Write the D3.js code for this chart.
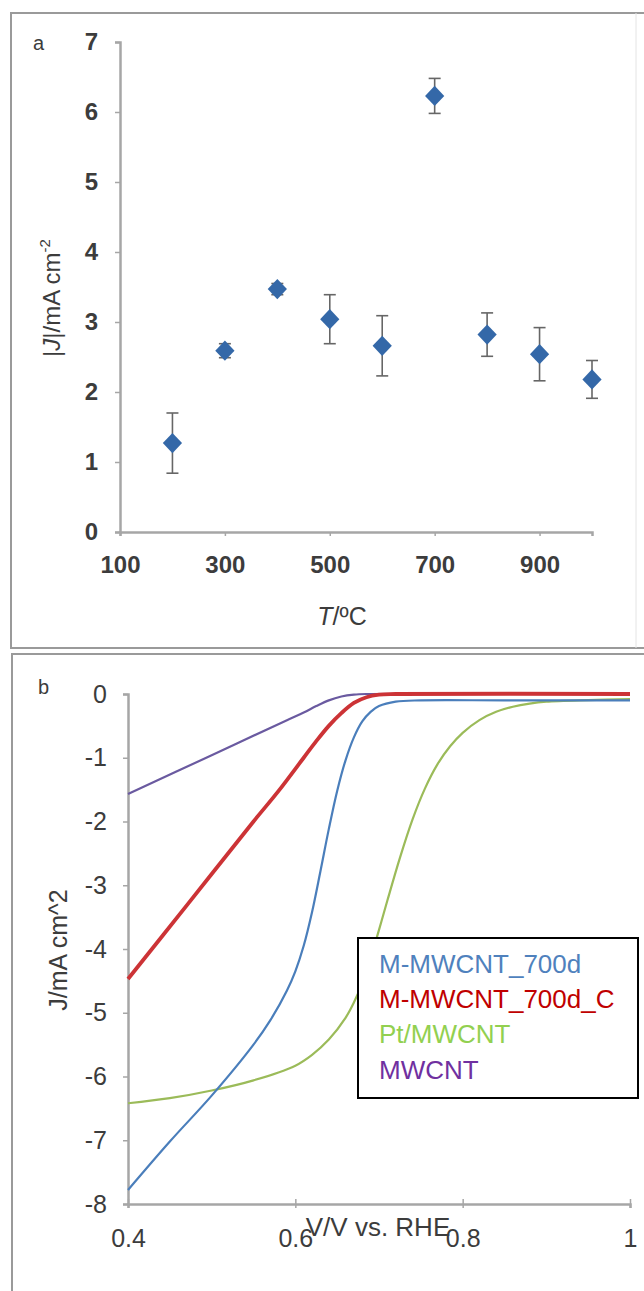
<!DOCTYPE html>
<html>
<head>
<meta charset="utf-8">
<script src="https://cdn.jsdelivr.net/npm/d3@7"></script>
<style>
  html, body { margin: 0; padding: 0; background: #fff; }
  svg { display: block; font-family: "Liberation Sans", Arial, sans-serif; }
</style>
</head>
<body>
<div id="chart"></div>
<script>
// Panel a: |J| vs annealing temperature
const temps = [200, 300, 400, 500, 600, 700, 800, 900, 1000];
const currents = [1.27, 2.59, 3.47, 3.04, 2.66, 6.23, 2.82, 2.54, 2.18];
const errors = [0.43, 0.10, 0.08, 0.35, 0.43, 0.25, 0.31, 0.38, 0.27];
const tempTicks = [100, 300, 500, 700, 900];
const currentTicks = [0, 1, 2, 3, 4, 5, 6, 7];

// Panel b: polarisation curves (V vs RHE, J in mA cm^-2)
const seriesNames = ["M-MWCNT_700d", "M-MWCNT_700d_C", "Pt/MWCNT", "MWCNT"];
const blueV = [0.40, 0.45, 0.50, 0.55, 0.57, 0.59, 0.60, 0.61, 0.62, 0.63, 0.64, 0.65, 0.66, 0.67, 0.68, 0.69, 0.70, 0.72, 0.75, 0.85, 1.00];
const blueJ = [-7.78, -7.02, -6.30, -5.50, -5.12, -4.65, -4.35, -3.95, -3.42, -2.78, -2.12, -1.52, -1.04, -0.68, -0.43, -0.28, -0.19, -0.12, -0.10, -0.10, -0.10];
const redV = [0.40, 0.47, 0.55, 0.58, 0.61, 0.625, 0.64, 0.655, 0.67, 0.685, 0.70, 0.72, 1.00];
const redJ = [-4.47, -3.32, -2.00, -1.52, -1.00, -0.74, -0.50, -0.30, -0.14, -0.05, -0.01, 0.00, 0.00];
const greenV = [0.40, 0.45, 0.50, 0.55, 0.60, 0.62, 0.64, 0.66, 0.67, 0.68, 0.69, 0.70, 0.71, 0.725, 0.74, 0.755, 0.77, 0.785, 0.80, 0.82, 0.84, 0.86, 0.88, 0.90, 0.95, 1.00];
const greenJ = [-6.42, -6.34, -6.22, -6.06, -5.83, -5.66, -5.42, -5.08, -4.84, -4.53, -4.14, -3.70, -3.24, -2.57, -1.97, -1.48, -1.10, -0.82, -0.61, -0.41, -0.28, -0.20, -0.15, -0.12, -0.095, -0.08];
const purpleV = [0.40, 0.50, 0.59, 0.61, 0.625, 0.64, 0.655, 0.67, 0.685, 1.00];
const purpleJ = [-1.57, -0.96, -0.41, -0.29, -0.19, -0.10, -0.04, -0.01, 0.00, 0.00];
const voltTicks = [0.4, 0.6, 0.8, 1];
const jTicks = [0, -1, -2, -3, -4, -5, -6, -7, -8];

const W = 644, H = 1291;
const svg = d3.select("#chart").append("svg")
    .attr("width", W)
    .attr("height", H);

// panel frames
const frame = svg.append("g").attr("fill", "none").attr("stroke", "#9a9a9a").attr("stroke-width", 2);
frame.append("path").attr("d", "M644,13 H11 V648 H644");
frame.append("line").attr("x1", 636).attr("x2", 636).attr("y1", 13).attr("y2", 648).attr("stroke", "#e4e4e4").attr("stroke-width", 1);
frame.append("path").attr("d", "M644,654 H12 V1291");

const axisColor = "#a6a6a6";
const textColor = "#3c3c3c";

// ---------- panel a ----------
const xa = d3.scaleLinear().domain([100, 1000]).range([120, 592]);
const ya = d3.scaleLinear().domain([0, 7]).range([532, 42]);

const gA = svg.append("g");

const axA = gA.append("g").attr("transform", "translate(0,532)")
    .call(d3.axisBottom(xa).tickValues(tempTicks).tickSize(4).tickPadding(20).tickFormat(String));
const ayA = gA.append("g").attr("transform", "translate(120,0)")
    .call(d3.axisLeft(ya).tickValues(currentTicks).tickSize(5).tickPadding(17).tickFormat(String));

[axA, ayA].forEach(ax => {
    ax.select(".domain").attr("stroke", axisColor).attr("stroke-width", 2.5);
    ax.selectAll(".tick line").attr("stroke", axisColor).attr("stroke-width", 1.5);
    ax.selectAll(".tick text").attr("fill", textColor).attr("font-size", 24).attr("font-weight", "bold");
});

gA.append("text").attr("x", 33).attr("y", 50).attr("font-size", 20).attr("fill", textColor).text("a");

const xLabA = gA.append("text").attr("x", 342).attr("y", 625).attr("text-anchor", "middle")
    .attr("font-size", 25).attr("fill", textColor);
xLabA.append("tspan").attr("font-style", "italic").text("T");
xLabA.append("tspan").text("/ºC");

const yLabA = gA.append("text").attr("transform", "translate(60,298) rotate(-90)")
    .attr("text-anchor", "middle").attr("font-size", 24).attr("fill", textColor);
yLabA.append("tspan").text("|");
yLabA.append("tspan").attr("font-style", "italic").text("J");
yLabA.append("tspan").text("|/mA cm");
yLabA.append("tspan").attr("dy", -10).attr("font-size", 15).text("-2");

const pts = temps.map((t, i) => ({ t, j: currents[i], e: errors[i] }));

const eb = gA.append("g").attr("stroke", "#666").attr("stroke-width", 1.6);
eb.selectAll("line.v").data(pts).join("line")
    .attr("x1", d => xa(d.t)).attr("x2", d => xa(d.t))
    .attr("y1", d => ya(d.j + d.e)).attr("y2", d => ya(d.j - d.e));
eb.selectAll("line.top").data(pts).join("line")
    .attr("x1", d => xa(d.t) - 6).attr("x2", d => xa(d.t) + 6)
    .attr("y1", d => ya(d.j + d.e)).attr("y2", d => ya(d.j + d.e));
eb.selectAll("line.bot").data(pts).join("line")
    .attr("x1", d => xa(d.t) - 6).attr("x2", d => xa(d.t) + 6)
    .attr("y1", d => ya(d.j - d.e)).attr("y2", d => ya(d.j - d.e));

gA.append("g").selectAll("path").data(pts).join("path")
    .attr("d", d3.symbol().type(d3.symbolSquare).size(185))
    .attr("transform", d => `translate(${xa(d.t)},${ya(d.j)}) scale(1,1.05) rotate(45)`)
    .attr("fill", "#3468a8");

// ---------- panel b ----------
const xb = d3.scaleLinear().domain([0.4, 1]).range([128, 630]);
const yb = d3.scaleLinear().domain([-8, 0]).range([1204, 694]);

const gB = svg.append("g");

const axB = gB.append("g").attr("transform", "translate(0,1204)")
    .call(d3.axisBottom(xb).tickValues(voltTicks).tickSize(4).tickPadding(21).tickFormat(d => d === 1 ? "1" : d.toFixed(1)));
const ayB = gB.append("g").attr("transform", "translate(128,0)")
    .call(d3.axisLeft(yb).tickValues(jTicks).tickSize(5).tickPadding(16).tickFormat(String));

[axB, ayB].forEach(ax => {
    ax.select(".domain").attr("stroke", axisColor).attr("stroke-width", 2.5);
    ax.selectAll(".tick line").attr("stroke", axisColor).attr("stroke-width", 1.5);
    ax.selectAll(".tick text").attr("fill", textColor).attr("font-size", 25);
});
axB.selectAll(".tick line").attr("y1", -5).attr("y2", 4);

gB.append("text").attr("x", 38).attr("y", 694).attr("font-size", 20).attr("fill", textColor).text("b");

// the axis title sits over the 0.6 / 0.8 labels, as in the original figure
gB.append("text").attr("x", 378).attr("y", 1236).attr("text-anchor", "middle")
    .attr("font-size", 26).attr("fill", textColor).text("V/V vs. RHE");

gB.append("text").attr("transform", "translate(67,950) rotate(-90)")
    .attr("text-anchor", "middle").attr("font-size", 25).attr("fill", textColor).text("J/mA cm^2");

const curves = [
    { v: purpleV, j: purpleJ, color: "#6a5aa0", w: 2.2 },
    { v: greenV, j: greenJ, color: "#9bbb59", w: 2.2 },
    { v: blueV, j: blueJ, color: "#4a7ebb", w: 2.2 },
    { v: redV, j: redJ, color: "#cc3336", w: 3.8 }
];

const line = d3.line()
    .x(d => xb(d[0]))
    .y(d => yb(d[1]))
    .curve(d3.curveCatmullRom.alpha(0.5));

gB.append("g").attr("fill", "none").selectAll("path").data(curves).join("path")
    .attr("d", c => line(c.v.map((v, i) => [v, c.j[i]])))
    .attr("stroke", c => c.color)
    .attr("stroke-width", c => c.w)
    .attr("stroke-linejoin", "round");

// legend
const legendColors = ["#4f81bd", "#c00000", "#92d050", "#7030a0"];
const leg = gB.append("g");
leg.append("rect").attr("x", 358).attr("y", 938).attr("width", 280).attr("height", 160)
    .attr("fill", "#fff").attr("stroke", "#000").attr("stroke-width", 2);
leg.selectAll("text").data(seriesNames).join("text")
    .attr("x", 379).attr("y", (d, i) => 973 + i * 35.2)
    .attr("font-size", 26)
    .attr("fill", (d, i) => legendColors[i])
    .text(d => d);
</script>
</body>
</html>
